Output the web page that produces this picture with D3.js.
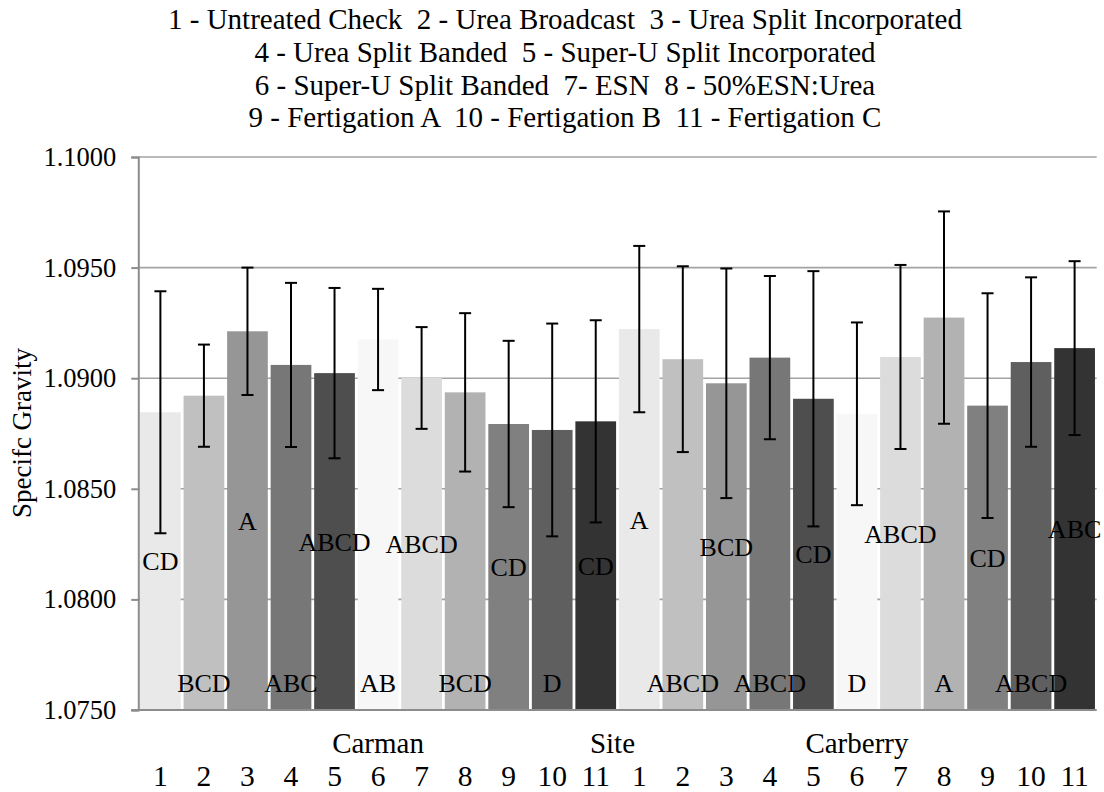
<!DOCTYPE html>
<html>
<head>
<meta charset="utf-8">
<script src="https://cdn.jsdelivr.net/npm/d3@7"></script>
</head>
<body style="margin:0">
<svg id="chart" width="1104" height="792"></svg>
<script>
const WIDTH = 1104;
const HEIGHT = 792;

const titleLines = [
  '1 - Untreated Check  2 - Urea Broadcast  3 - Urea Split Incorporated',
  '4 - Urea Split Banded  5 - Super-U Split Incorporated',
  '6 - Super-U Split Banded  7- ESN  8 - 50%ESN:Urea',
  '9 - Fertigation A  10 - Fertigation B  11 - Fertigation C'
];
const sites = ['Carman', 'Carberry'];
const treatments = ['1', '2', '3', '4', '5', '6', '7', '8', '9', '10', '11'];
const carmanMeans = [1.08846, 1.08921, 1.09212, 1.09060, 1.09023, 1.09175, 1.09001, 1.08936, 1.08793, 1.08766, 1.08805];
const carmanErrors = [0.00547, 0.00231, 0.00288, 0.00371, 0.00385, 0.00229, 0.00230, 0.00358, 0.00376, 0.00481, 0.00457];
const carmanLetters = ['CD', 'BCD', 'A', 'ABC', 'ABCD', 'AB', 'ABCD', 'BCD', 'CD', 'D', 'CD'];
const carberryMeans = [1.09222, 1.09086, 1.08977, 1.09093, 1.08907, 1.08839, 1.09096, 1.09274, 1.08876, 1.09073, 1.09136];
const carberryErrors = [0.00376, 0.00420, 0.00519, 0.00369, 0.00577, 0.00413, 0.00416, 0.00480, 0.00508, 0.00383, 0.00393];
const carberryLetters = ['A', 'ABCD', 'BCD', 'ABCD', 'CD', 'D', 'ABCD', 'A', 'CD', 'ABCD', 'ABC'];
const yTicks = [1.075, 1.080, 1.085, 1.090, 1.095, 1.100];
const axisTitle = 'Specifc Gravity';
const siteAxisTitle = 'Site';

// one grey per treatment, repeated for each site
const colors = d3.scaleOrdinal()
  .domain(treatments)
  .range(['#e9e9e9', '#c0c0c0', '#969696', '#777777', '#4e4e4e', '#f7f7f7',
    '#dcdcdc', '#b2b2b2', '#808080', '#5f5f5f', '#333333']);

const rows = [];
[[carmanMeans, carmanErrors, carmanLetters], [carberryMeans, carberryErrors, carberryLetters]]
  .forEach(([means, errors, letters], s) => {
    treatments.forEach((t, i) => {
      rows.push({
        key: sites[s] + '-' + t,
        site: sites[s],
        treatment: t,
        value: means[i],
        error: errors[i],
        letter: letters[i],
        slot: i
      });
    });
  });

const margin = { top: 157, right: 7.3, bottom: 82, left: 138.3 };
const svg = d3.select('#chart');
const plotW = WIDTH - margin.left - margin.right;
const plotH = HEIGHT - margin.top - margin.bottom;

const x = d3.scaleBand()
  .domain(rows.map(d => d.key))
  .range([0, plotW])
  .paddingInner(0.065)
  .paddingOuter(0.04);
const y = d3.scaleLinear()
  .domain([1.075, 1.100])
  .range([plotH, 0]);

// small helper so every label gets the same serif face
const serif = (sel, size) => sel
  .style('font-family', '"Times New Roman", "Liberation Serif", serif')
  .style('font-size', size + 'px')
  .style('fill', '#000');

// title
svg.append('g')
  .selectAll('text')
  .data(titleLines)
  .join('text')
  .attr('x', 565)
  .attr('y', (d, i) => 29 + i * 32.8)
  .attr('text-anchor', 'middle')
  .attr('xml:space', 'preserve')
  .call(serif, 29)
  .text(d => d);

const g = svg.append('g')
  .attr('transform', `translate(${margin.left},${margin.top})`);

// gridlines
g.append('g')
  .selectAll('line')
  .data(yTicks.slice(1))
  .join('line')
  .attr('x1', 0)
  .attr('x2', plotW)
  .attr('y1', d => y(d))
  .attr('y2', d => y(d))
  .attr('stroke', '#a3a3a3')
  .attr('stroke-width', 1.6);

// bars
g.append('g')
  .selectAll('rect')
  .data(rows)
  .join('rect')
  .attr('x', d => x(d.key))
  .attr('width', x.bandwidth())
  .attr('y', d => y(d.value))
  .attr('height', d => plotH - y(d.value))
  .attr('fill', d => colors(d.treatment));

// significance letters: odd treatments centred in the bar, even ones at the base
g.append('g')
  .selectAll('text')
  .data(rows)
  .join('text')
  .attr('x', d => x(d.key) + x.bandwidth() / 2)
  .attr('y', d => d.slot % 2 === 0 ? (y(d.value) + plotH) / 2 : plotH - 27)
  .attr('dy', '0.35em')
  .attr('text-anchor', 'middle')
  .call(serif, 26)
  .text(d => d.letter);

// error bars
const errs = g.append('g')
  .selectAll('g')
  .data(rows)
  .join('g')
  .attr('transform', d => `translate(${x(d.key) + x.bandwidth() / 2},0)`)
  .attr('stroke', '#000')
  .attr('stroke-width', 2);
errs.append('line')
  .attr('y1', d => y(d.value - d.error))
  .attr('y2', d => y(d.value + d.error));
errs.append('line')
  .attr('x1', -6)
  .attr('x2', 6)
  .attr('y1', d => y(d.value + d.error))
  .attr('y2', d => y(d.value + d.error));
errs.append('line')
  .attr('x1', -6)
  .attr('x2', 6)
  .attr('y1', d => y(d.value - d.error))
  .attr('y2', d => y(d.value - d.error));

// y axis
const yAxis = g.append('g')
  .call(d3.axisLeft(y).tickValues(yTicks).tickFormat(d3.format('.4f')).tickSize(7).tickPadding(15));
yAxis.select('.domain').attr('stroke', '#8c8c8c').attr('stroke-width', 2);
yAxis.selectAll('.tick line').attr('stroke', '#8c8c8c').attr('stroke-width', 2);
yAxis.selectAll('.tick text').call(serif, 26.5);

// x axis baseline
g.append('line')
  .attr('x1', -7)
  .attr('x2', plotW)
  .attr('y1', plotH)
  .attr('y2', plotH)
  .attr('stroke', '#8c8c8c')
  .attr('stroke-width', 2);

// treatment numbers
g.append('g')
  .selectAll('text')
  .data(rows)
  .join('text')
  .attr('x', d => x(d.key) + x.bandwidth() / 2)
  .attr('y', plotH + 76)
  .attr('text-anchor', 'middle')
  .call(serif, 29.5)
  .text(d => d.treatment);

// site names centred over their group
g.append('g')
  .selectAll('text')
  .data(sites)
  .join('text')
  .attr('x', s => {
    const keys = rows.filter(d => d.site === s).map(d => d.key);
    return (x(keys[0]) + x(keys[keys.length - 1]) + x.bandwidth()) / 2;
  })
  .attr('y', plotH + 43)
  .attr('text-anchor', 'middle')
  .call(serif, 29)
  .text(d => d);

g.append('text')
  .attr('x', plotW / 2 - 5)
  .attr('y', plotH + 43)
  .attr('text-anchor', 'middle')
  .call(serif, 29)
  .text(siteAxisTitle);

svg.append('text')
  .attr('transform', 'translate(31,433) rotate(-90)')
  .attr('text-anchor', 'middle')
  .call(serif, 27)
  .text(axisTitle);
</script>
</body>
</html>
